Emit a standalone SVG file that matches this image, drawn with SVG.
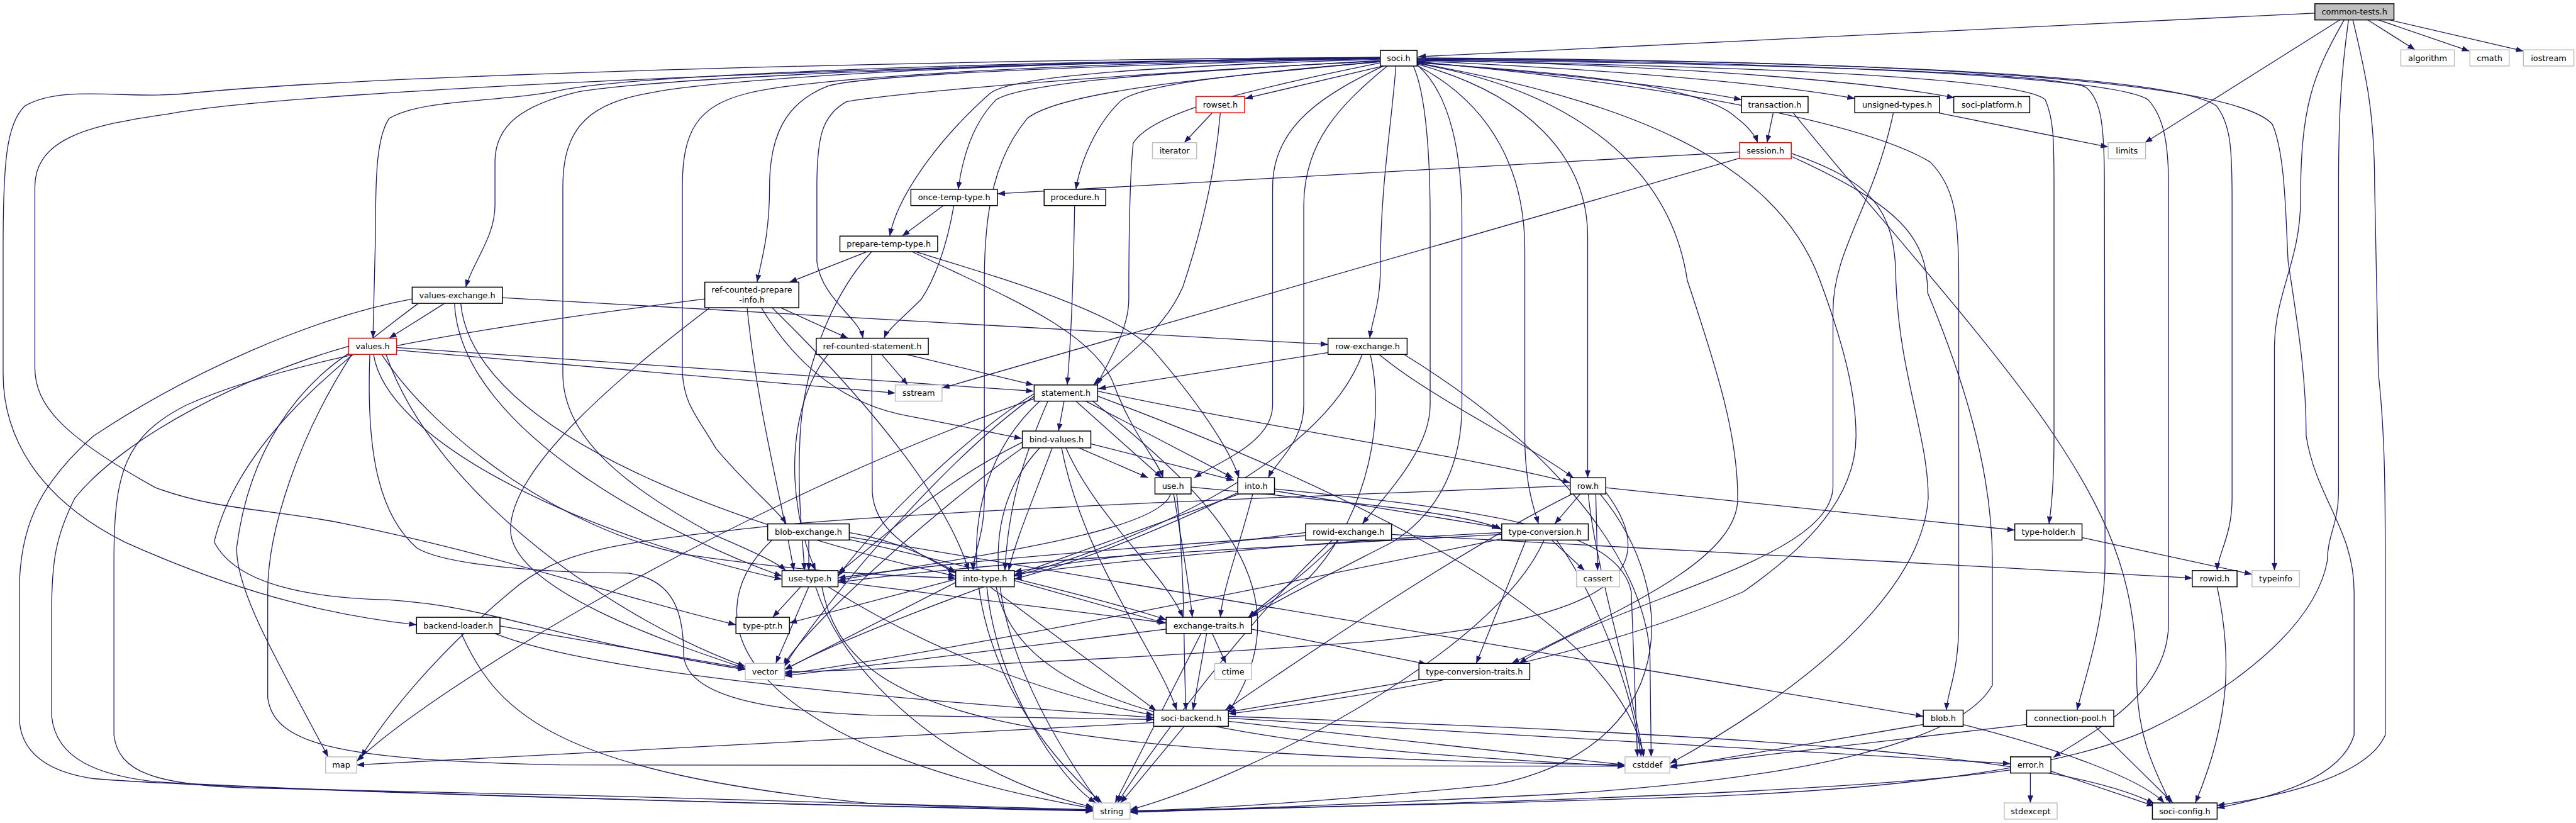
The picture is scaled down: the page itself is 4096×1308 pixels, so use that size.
<svg xmlns="http://www.w3.org/2000/svg" width="4096" height="1308" viewBox="0 0 4096 1308">
<defs>
<marker id="a" markerUnits="userSpaceOnUse" markerWidth="12" markerHeight="9" refX="12" refY="4.5" orient="auto" viewBox="0 0 12 9"><path d="M0,0 L12,4.5 L0,9 z" fill="#191970"/></marker>
<style>
.e path{fill:none;stroke:#191970;stroke-width:1.3;marker-end:url(#a)}
.n rect{fill:#fff;stroke:#000;stroke-width:1.5}
.g rect{stroke:#bfbfbf}
.r rect{stroke:#ff0000}
.c rect{fill:#bfbfbf}
.n text{font-family:"DejaVu Sans",sans-serif;font-size:13px;text-anchor:middle;fill:#000}
</style>
</defs>
<rect width="4096" height="1308" fill="#fff"/>
<g transform="scale(0.99)">
<g id="edges" class="e">
<path d="M3718,21 L2278,91"/>
<path d="M3758,32 L3445,229"/>
<path d="M3803,32 L3879,80"/>
<path d="M3820,32 L3966,82"/>
<path d="M3838,32 L4053,82"/>
<path d="M3765,32 C3715,120 3695,170 3695,320 C3695,420 3653,470 3653,560 L3653,916"/>
<path d="M3772,32 C3760,120 3756,180 3756,300 L3756,790 C3756,840 3738,860 3738,900 C3720,1000 3600,1100 3454,1170 C3300,1240 3000,1270 2700,1280 C2400,1290 2000,1300 1815,1302"/>
<path d="M3779,32 C3800,120 3814,180 3814,300 L3820,600 C3831,700 3831,800 3831,900 L3831,1180 C3800,1250 3650,1280 3561,1293"/>
<path d="M2222,106 L2000,158"/>
<path d="M2276,100 C2500,118 2700,140 2797,160"/>
<path d="M2276,98 C2600,112 2850,135 2979,158"/>
<path d="M2276,96 C2700,106 3000,130 3139,157"/>
<path d="M2276,101 C2550,118 2740,140 2790,190 C2810,205 2820,220 2823,229"/>
<path d="M2242,106 C2235,200 2217,300 2217,430 C2217,490 2203,515 2200,543"/>
<path d="M2222,106 C2130,150 2044,200 2044,300 L2044,650 C2044,710 1960,740 1918,767"/>
<path d="M2228,106 C2150,170 2094,230 2094,330 L2094,650 C2094,710 2050,740 2037,767"/>
<path d="M2217,101 C2000,145 1850,180 1820,230 C1813,300 1813,440 1813,480 C1813,530 1780,580 1762,618"/>
<path d="M2217,97 C1900,115 1650,130 1600,160 C1560,200 1545,260 1539,304"/>
<path d="M2217,99 C1950,122 1830,138 1800,162 C1760,200 1735,260 1728,304"/>
<path d="M2217,95 C1800,108 1620,125 1590,150 C1500,230 1440,320 1429,379"/>
<path d="M2217,94 C1800,104 1400,118 1330,138 C1260,165 1236,220 1236,300 C1236,380 1222,420 1216,453"/>
<path d="M2217,98 C1800,118 1450,148 1360,163 C1320,185 1312,220 1312,300 L1312,420 C1320,480 1380,510 1386,543"/>
<path d="M2217,93 C1500,103 1050,128 930,147 C840,168 795,200 795,260 L795,330 C795,380 760,420 748,461"/>
<path d="M2217,93 C1500,100 1000,123 900,145 C800,165 680,158 625,190 C605,220 603,280 603,380 L599,543"/>
<path d="M2217,92 C1500,96 600,120 300,150 C200,160 100,135 40,170 C10,200 5,260 5,400 L5,600 C5,700 60,800 200,870 C400,960 550,990 669,1003"/>
<path d="M2217,92 C1600,100 500,140 270,183 C150,200 56,220 56,300 L56,590 C56,650 100,700 250,783 C350,820 437,817 550,840 C800,890 1000,960 1182,1003"/>
<path d="M2217,93 C1600,98 1150,128 1050,148 C950,165 904,200 904,300 L904,600 C904,700 1000,780 1150,860 C1220,890 1250,905 1262,916"/>
<path d="M2217,94 C1700,100 1300,125 1200,150 C1120,170 1096,210 1096,300 L1096,600 C1100,650 1116,663 1150,720 C1200,780 1250,820 1263,841"/>
<path d="M2217,99 C1900,128 1700,150 1650,190 C1600,250 1581,330 1581,450 L1581,800 C1581,860 1563,890 1563,916"/>
<path d="M2276,104 C2330,150 2348,250 2348,350 L2348,650 C2348,760 2300,830 2237,870 C2100,940 2030,975 2009,991"/>
<path d="M2270,106 C2290,150 2297,250 2297,350 L2297,650 C2297,720 2230,790 2188,841"/>
<path d="M2276,105 C2400,170 2449,280 2449,400 L2449,700 C2449,780 2465,820 2471,841"/>
<path d="M2276,103 C2450,150 2550,250 2550,380 L2550,767"/>
<path d="M2276,102 C2500,140 2680,250 2710,450 C2760,600 2791,700 2791,800 C2791,900 2600,980 2428,1065"/>
<path d="M2276,101 C2600,160 2850,250 2923,450 C2960,550 2981,630 2981,700 C2981,800 2900,880 2800,950 C2500,1080 2100,1130 1973,1146"/>
<path d="M2276,97 C2900,108 3250,128 3285,160 C3298,190 3299,220 3299,300 L3299,700 C3299,800 3292,830 3291,841"/>
<path d="M2276,96 C2900,103 3300,118 3350,140 C3375,160 3380,200 3380,300 L3381,900 C3381,1000 3345,1100 3336,1140"/>
<path d="M2276,95 C3000,100 3400,128 3450,160 C3478,190 3483,240 3483,300 L3483,1000 C3483,1120 3350,1180 3298,1216"/>
<path d="M2276,94 C3100,98 3500,128 3560,170 C3583,200 3585,240 3585,320 L3585,800 C3585,860 3562,890 3561,916"/>
<path d="M2276,93 C3200,97 3600,140 3650,200 C3671,250 3671,350 3675,420 C3690,520 3704,600 3704,700 C3720,800 3781,850 3781,950 L3781,1180 C3760,1250 3650,1280 3561,1297"/>
<path d="M2276,99 C2700,138 3000,200 3100,260 C3140,300 3146,350 3146,450 L3146,1000 C3146,1080 3128,1110 3126,1140"/>
<path d="M2848,181 L2838,229"/>
<path d="M2880,181 C3000,330 3200,550 3300,700 C3400,850 3432,950 3432,1100 C3435,1200 3470,1250 3485,1289"/>
<path d="M3112,181 L3386,236"/>
<path d="M3041,181 C3010,330 2944,400 2944,500 L2944,780 C2944,900 2600,960 2440,1065"/>
<path d="M2794,244 L1602,311"/>
<path d="M2794,254 L1513,623"/>
<path d="M2877,246 C3000,290 3045,330 3045,450 C3050,600 3097,700 3097,800 C3090,900 3000,1050 2682,1226"/>
<path d="M2877,251 C3050,330 3096,380 3096,470 C3150,600 3200,750 3200,900 L3200,1100 C3150,1190 2900,1250 2500,1275 C2200,1290 1950,1300 1815,1304"/>
<path d="M1515,330 L1449,379"/>
<path d="M1532,330 C1520,400 1500,450 1480,480 C1450,510 1425,530 1420,543"/>
<path d="M1726,330 C1724,450 1720,550 1714,618"/>
<path d="M1947,181 L1902,229"/>
<path d="M1960,181 C1950,300 1920,400 1900,460 C1870,530 1800,580 1756,618"/>
<path d="M1393,404 L1268,453"/>
<path d="M1400,404 C1330,480 1290,600 1285,700 C1280,800 1290,870 1292,916"/>
<path d="M1465,404 C1600,470 1760,530 1790,620 C1820,700 1860,740 1868,767"/>
<path d="M1470,404 C1620,450 1790,500 1850,560 C1920,640 1975,720 1990,767"/>
<path d="M1254,494 L1362,543"/>
<path d="M1223,494 C1280,590 1360,650 1460,668 C1550,685 1610,698 1641,704"/>
<path d="M1132,480 C900,510 500,560 300,650 C200,700 183,760 183,900 L183,1180 C190,1240 250,1260 400,1265 C800,1272 1500,1292 1756,1300"/>
<path d="M1140,494 C1000,600 820,750 820,850 C820,950 1100,1040 1197,1073"/>
<path d="M1240,494 C1400,650 1520,800 1556,916"/>
<path d="M1200,494 C1215,650 1255,800 1275,916"/>
<path d="M1456,569 L1660,618"/>
<path d="M1416,569 L1458,618"/>
<path d="M1400,569 L1401,790 C1405,860 1480,890 1535,920"/>
<path d="M1330,569 C1265,650 1260,800 1310,916"/>
<path d="M714,487 L625,543"/>
<path d="M807,478 L2133,553"/>
<path d="M662,480 C500,510 300,600 150,700 C60,780 31,850 31,950 L31,1150 C31,1210 80,1240 150,1250 C400,1270 1400,1295 1756,1302"/>
<path d="M672,487 C520,600 380,720 344,870 C380,940 500,960 625,963 C800,975 860,1020 1197,1075"/>
<path d="M740,487 C760,700 1200,850 1535,925"/>
<path d="M730,487 C740,700 1100,870 1256,925"/>
<path d="M637,558 L1660,628"/>
<path d="M637,562 L1438,631"/>
<path d="M560,556 C400,600 200,700 120,800 C90,860 83,900 83,980 L83,1150 C90,1220 160,1245 250,1255 C600,1275 1400,1295 1756,1301"/>
<path d="M562,566 C480,620 400,720 380,880 C380,950 440,1050 527,1215"/>
<path d="M613,569 C700,700 900,850 1100,890 C1300,920 1450,925 1535,928"/>
<path d="M600,569 C620,700 900,850 1256,930"/>
<path d="M594,569 C589,700 600,820 670,880 C720,910 900,920 1009,920 C1080,930 1098,980 1098,1050 C1100,1110 1200,1140 1400,1148 C1600,1152 1800,1153 1853,1155"/>
<path d="M565,569 C480,700 430,850 430,950 L430,1120 C440,1200 560,1220 900,1228 L2610,1230"/>
<path d="M620,569 C700,800 1000,1000 1197,1070"/>
<path d="M2133,566 L1764,624"/>
<path d="M2215,569 C2300,640 2450,710 2527,767"/>
<path d="M2188,569 C2120,750 1800,880 1629,925"/>
<path d="M2201,569 C2230,700 2180,850 2100,930 C2050,960 2020,980 2005,991"/>
<path d="M2255,569 C2500,720 2640,900 2650,1050 L2652,1215"/>
<path d="M1709,644 L1700,692"/>
<path d="M1728,644 L1866,767"/>
<path d="M1744,644 L1980,767"/>
<path d="M1763,628 C2000,680 2400,740 2522,775"/>
<path d="M1755,644 C1950,800 2100,950 1973,1143"/>
<path d="M1683,644 C1650,720 1620,800 1614,916"/>
<path d="M1661,632 C1550,700 1400,850 1346,925"/>
<path d="M1661,636 C1500,750 1300,1000 1260,1070"/>
<path d="M1661,640 C1200,800 700,1100 573,1222"/>
<path d="M1670,644 C1500,800 1550,1100 1770,1289"/>
<path d="M1763,636 C2200,800 2600,1000 2640,1215"/>
<path d="M1733,719 L1844,767"/>
<path d="M1750,712 L1982,771"/>
<path d="M1642,710 C1500,780 1400,880 1346,920"/>
<path d="M1690,719 C1660,800 1630,870 1620,916"/>
<path d="M1712,719 C1760,830 1870,920 1900,991"/>
<path d="M1705,719 C1740,900 1860,1050 1890,1140"/>
<path d="M1670,719 C1500,900 1700,1200 1765,1289"/>
<path d="M1645,717 C1500,820 1300,1000 1258,1068"/>
<path d="M1880,793 C1860,860 1500,900 1346,932"/>
<path d="M1885,793 C1900,880 1910,940 1915,991"/>
<path d="M1913,782 C2100,800 2350,820 2412,850"/>
<path d="M1890,793 C1905,950 1900,1050 1905,1140"/>
<path d="M1990,790 C1800,880 1700,910 1629,930"/>
<path d="M2012,793 C1990,880 1965,940 1960,991"/>
<path d="M2047,788 L2408,847"/>
<path d="M1990,793 C1700,900 1400,1000 1260,1075"/>
<path d="M2047,785 C2400,820 2600,850 2620,950 L2630,1215"/>
<path d="M2579,783 L3236,851"/>
<path d="M2538,793 L2497,841"/>
<path d="M2563,793 L2566,916"/>
<path d="M2522,780 C2000,800 1500,820 1250,843 C1000,870 900,880 820,950 C700,1050 620,1150 580,1215"/>
<path d="M2525,793 C2350,880 2100,1050 1968,1140"/>
<path d="M2551,793 C2560,900 2620,1100 2640,1215"/>
<path d="M2570,793 C2700,950 2700,1200 2400,1260 C2100,1290 1900,1300 1815,1302"/>
<path d="M2579,790 C2700,950 2500,1000 2200,1030 C1800,1060 1400,1075 1260,1079"/>
<path d="M2451,867 L2371,1065"/>
<path d="M2412,855 C2100,870 1800,900 1629,922"/>
<path d="M2412,858 C2000,880 1600,900 1346,935"/>
<path d="M2492,867 L2545,916"/>
<path d="M2500,867 C2560,950 2620,1100 2636,1215"/>
<path d="M2480,867 C2400,1050 2000,1250 1815,1300"/>
<path d="M2412,865 C2000,950 1500,1050 1260,1082"/>
<path d="M2235,858 L3521,928"/>
<path d="M2097,855 C1900,880 1700,905 1629,918"/>
<path d="M2097,860 C1800,880 1500,905 1346,928"/>
<path d="M2150,867 C2100,920 2040,960 2005,991"/>
<path d="M2140,867 C2000,1000 1850,1200 1795,1289"/>
<path d="M1364,855 C1450,870 1500,900 1535,918"/>
<path d="M1299,867 L1299,916"/>
<path d="M1364,862 L3089,1150"/>
<path d="M1364,866 C1600,920 1800,970 1873,995"/>
<path d="M1240,867 C1100,1000 1200,1200 1756,1298"/>
<path d="M1286,942 L1241,991"/>
<path d="M1299,942 L1246,1065"/>
<path d="M1346,934 L1873,1000"/>
<path d="M1330,942 C1500,1050 1700,1120 1853,1148"/>
<path d="M1320,942 C1360,1150 1600,1210 2610,1228"/>
<path d="M1310,942 C1360,1100 1550,1250 1756,1296"/>
<path d="M1629,932 L1870,1000"/>
<path d="M1590,942 L1857,1141"/>
<path d="M1535,935 L1260,1075"/>
<path d="M1600,942 C1640,1150 2000,1200 2610,1230"/>
<path d="M1585,942 C1600,1100 1700,1250 1760,1289"/>
<path d="M1535,930 L1268,1000"/>
<path d="M2010,1010 L2291,1066"/>
<path d="M1938,1017 L1916,1140"/>
<path d="M1947,1017 L1969,1065"/>
<path d="M1929,1017 L1791,1289"/>
<path d="M1873,1010 L1260,1085"/>
<path d="M2280,1091 L1973,1143"/>
<path d="M1853,1160 L573,1228"/>
<path d="M1973,1158 L2610,1228"/>
<path d="M1902,1166 L1800,1289"/>
<path d="M1973,1153 L3229,1226"/>
<path d="M1973,1150 C2800,1180 3300,1210 3460,1290"/>
<path d="M3152,1163 C3300,1200 3440,1250 3476,1289"/>
<path d="M3089,1163 L2682,1232"/>
<path d="M3365,1166 L3490,1289"/>
<path d="M3255,1163 L2682,1230"/>
<path d="M3261,1241 L3261,1289"/>
<path d="M3294,1238 L3460,1294"/>
<path d="M3229,1236 C3000,1270 2400,1290 1815,1303"/>
<path d="M3561,942 C3584,1050 3584,1150 3526,1289"/>
<path d="M3344,863 L3617,922"/>
<path d="M803,1005 L1197,1073"/>
<path d="M795,1017 C950,1080 1400,1120 1853,1152"/>
<path d="M741,1017 C800,1150 900,1240 1400,1290 C1600,1298 1700,1300 1756,1301"/>
</g>
<g id="n-common-tests" class="n c"><rect x="3718" y="6" width="127" height="26"/><text x="3781.5" y="23.7">common-tests.h</text></g>
<g id="n-soci" class="n"><rect x="2217" y="81" width="59" height="25"/><text x="2246.5" y="98.2">soci.h</text></g>
<g id="n-algorithm" class="n g"><rect x="3856" y="80" width="86" height="26"/><text x="3899" y="97.7">algorithm</text></g>
<g id="n-cmath" class="n g"><rect x="3967" y="80" width="63" height="26"/><text x="3998.5" y="97.7">cmath</text></g>
<g id="n-iostream" class="n g"><rect x="4053" y="80" width="81" height="26"/><text x="4093.5" y="97.7">iostream</text></g>
<g id="n-rowset" class="n r"><rect x="1921" y="155" width="78" height="26"/><text x="1960" y="172.7">rowset.h</text></g>
<g id="n-transaction" class="n"><rect x="2797" y="155" width="107" height="26"/><text x="2850.5" y="172.7">transaction.h</text></g>
<g id="n-unsigned-types" class="n"><rect x="2979" y="155" width="136" height="26"/><text x="3047" y="172.7">unsigned-types.h</text></g>
<g id="n-soci-platform" class="n"><rect x="3138" y="155" width="122" height="26"/><text x="3199" y="172.7">soci-platform.h</text></g>
<g id="n-iterator" class="n g"><rect x="1851" y="229" width="71" height="26"/><text x="1886.5" y="246.7">iterator</text></g>
<g id="n-session" class="n r"><rect x="2794" y="229" width="83" height="26"/><text x="2835.5" y="246.7">session.h</text></g>
<g id="n-limits" class="n g"><rect x="3386" y="229" width="60" height="26"/><text x="3416" y="246.7">limits</text></g>
<g id="n-once-temp-type" class="n"><rect x="1463" y="304" width="139" height="26"/><text x="1532.5" y="321.7">once-temp-type.h</text></g>
<g id="n-procedure" class="n"><rect x="1677" y="304" width="99" height="26"/><text x="1726.5" y="321.7">procedure.h</text></g>
<g id="n-prepare-temp-type" class="n"><rect x="1349" y="379" width="157" height="25"/><text x="1427.5" y="396.2">prepare-temp-type.h</text></g>
<g id="n-values-exchange" class="n"><rect x="662" y="461" width="145" height="26"/><text x="734.5" y="478.7">values-exchange.h</text></g>
<g id="n-ref-counted-prepare-info" class="n"><rect x="1132" y="453" width="151" height="41"/><text x="1207.5" y="469.5">ref-counted-prepare</text><text x="1207.5" y="485.5">-info.h</text></g>
<g id="n-row-exchange" class="n"><rect x="2133" y="543" width="127" height="26"/><text x="2196.5" y="560.7">row-exchange.h</text></g>
<g id="n-values" class="n r"><rect x="560" y="543" width="77" height="26"/><text x="598.5" y="560.7">values.h</text></g>
<g id="n-ref-counted-statement" class="n"><rect x="1311" y="543" width="180" height="26"/><text x="1401" y="560.7">ref-counted-statement.h</text></g>
<g id="n-sstream" class="n g"><rect x="1438" y="618" width="75" height="26"/><text x="1475.5" y="635.7">sstream</text></g>
<g id="n-statement" class="n"><rect x="1661" y="618" width="102" height="26"/><text x="1712" y="635.7">statement.h</text></g>
<g id="n-bind-values" class="n"><rect x="1642" y="692" width="110" height="27"/><text x="1697" y="710.2">bind-values.h</text></g>
<g id="n-use" class="n"><rect x="1855" y="767" width="58" height="26"/><text x="1884" y="784.7">use.h</text></g>
<g id="n-into" class="n"><rect x="1988" y="767" width="59" height="26"/><text x="2017.5" y="784.7">into.h</text></g>
<g id="n-row" class="n"><rect x="2522" y="767" width="57" height="26"/><text x="2550.5" y="784.7">row.h</text></g>
<g id="n-blob-exchange" class="n"><rect x="1233" y="841" width="131" height="26"/><text x="1298.5" y="858.7">blob-exchange.h</text></g>
<g id="n-rowid-exchange" class="n"><rect x="2097" y="841" width="138" height="26"/><text x="2166" y="858.7">rowid-exchange.h</text></g>
<g id="n-type-conversion" class="n"><rect x="2412" y="841" width="139" height="26"/><text x="2481.5" y="858.7">type-conversion.h</text></g>
<g id="n-type-holder" class="n"><rect x="3236" y="841" width="108" height="26"/><text x="3290" y="858.7">type-holder.h</text></g>
<g id="n-use-type" class="n"><rect x="1256" y="916" width="90" height="26"/><text x="1301" y="933.7">use-type.h</text></g>
<g id="n-into-type" class="n"><rect x="1535" y="916" width="94" height="26"/><text x="1582" y="933.7">into-type.h</text></g>
<g id="n-cassert" class="n g"><rect x="2532" y="916" width="69" height="26"/><text x="2566.5" y="933.7">cassert</text></g>
<g id="n-rowid" class="n"><rect x="3521" y="916" width="72" height="26"/><text x="3557" y="933.7">rowid.h</text></g>
<g id="n-typeinfo" class="n g"><rect x="3617" y="916" width="76" height="26"/><text x="3655" y="933.7">typeinfo</text></g>
<g id="n-backend-loader" class="n"><rect x="669" y="991" width="134" height="26"/><text x="736" y="1008.7">backend-loader.h</text></g>
<g id="n-type-ptr" class="n"><rect x="1182" y="991" width="86" height="26"/><text x="1225" y="1008.7">type-ptr.h</text></g>
<g id="n-exchange-traits" class="n"><rect x="1873" y="991" width="137" height="26"/><text x="1941.5" y="1008.7">exchange-traits.h</text></g>
<g id="n-vector" class="n g"><rect x="1197" y="1065" width="63" height="26"/><text x="1228.5" y="1082.7">vector</text></g>
<g id="n-ctime" class="n g"><rect x="1951" y="1065" width="59" height="26"/><text x="1980.5" y="1082.7">ctime</text></g>
<g id="n-type-conversion-traits" class="n"><rect x="2279" y="1065" width="178" height="26"/><text x="2368" y="1082.7">type-conversion-traits.h</text></g>
<g id="n-soci-backend" class="n"><rect x="1853" y="1140" width="120" height="26"/><text x="1913" y="1157.7">soci-backend.h</text></g>
<g id="n-blob" class="n"><rect x="3089" y="1140" width="64" height="26"/><text x="3121" y="1157.7">blob.h</text></g>
<g id="n-connection-pool" class="n"><rect x="3255" y="1140" width="140" height="26"/><text x="3325" y="1157.7">connection-pool.h</text></g>
<g id="n-map" class="n g"><rect x="523" y="1215" width="50" height="26"/><text x="548" y="1232.7">map</text></g>
<g id="n-cstddef" class="n g"><rect x="2610" y="1215" width="72" height="26"/><text x="2646" y="1232.7">cstddef</text></g>
<g id="n-error" class="n"><rect x="3229" y="1215" width="65" height="26"/><text x="3261.5" y="1232.7">error.h</text></g>
<g id="n-string" class="n g"><rect x="1756" y="1289" width="59" height="26"/><text x="1785.5" y="1306.7">string</text></g>
<g id="n-stdexcept" class="n g"><rect x="3219" y="1289" width="85" height="26"/><text x="3261.5" y="1306.7">stdexcept</text></g>
<g id="n-soci-config" class="n"><rect x="3457" y="1289" width="104" height="26"/><text x="3509" y="1306.7">soci-config.h</text></g>
</g>
</svg>
